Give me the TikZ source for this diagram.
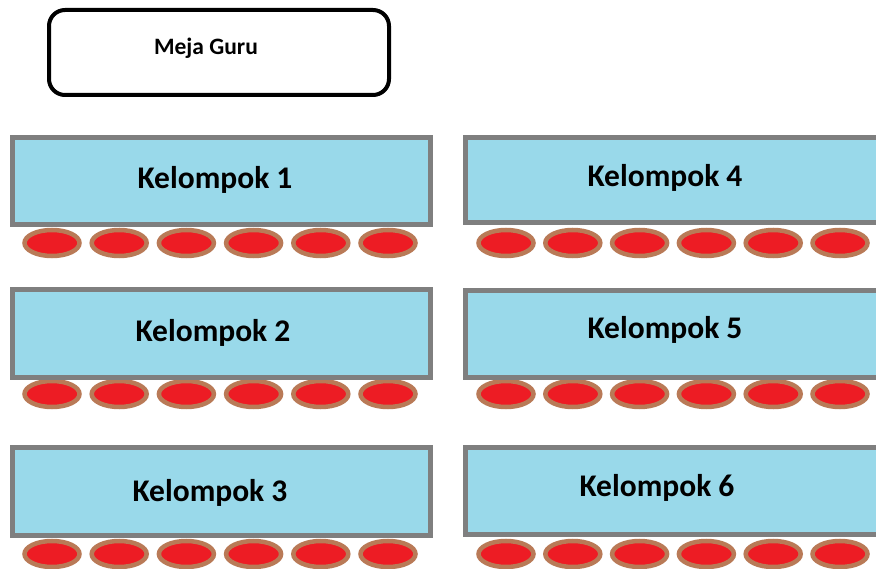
\documentclass[tikz,border=0pt]{standalone}
\usepackage{fontspec}
\setmainfont{Carlito}
\definecolor{tablefill}{HTML}{99D9EA}
\definecolor{tableedge}{HTML}{7F7F7F}
\definecolor{seatred}{HTML}{ED1C24}
\definecolor{seatrim}{HTML}{B97A57}
\tikzset{
  tablebox/.style={draw=tableedge, fill=tablefill, line width=5pt},
  seat/.style={draw=seatrim, fill=seatred, line width=4.5pt},
  grouplabel/.style={font=\fontsize{31.5}{38}\selectfont\bfseries, text=black, inner sep=0pt},
  deskbox/.style={draw=black, line width=4pt, rounded corners=16pt, fill=white},
}
\begin{document}
\begin{tikzpicture}[x=1pt,y=-1pt]
\useasboundingbox (0,0) rectangle (876,569);
\clip (0,0) rectangle (876,569);
\fill[white] (0,0) rectangle (876,569);
% teacher desk
\draw[deskbox] (49,10) rectangle (389,95);
\node[font=\fontsize{23.5}{28}\selectfont\bfseries, inner sep=0pt] (guru) at (206,48) {Meja Guru};
% seats
\foreach \r/\cy in {1/243, 2/394, 3/554} {
  \foreach \k in {0,...,5} {
    \path[seat] ({52+67.2*\k},\cy) ellipse [x radius=27.5pt, y radius=13pt];
    \path[seat] ({506+66.8*\k},\cy) ellipse [x radius=27.5pt, y radius=13pt];
  }
}
% tables
\draw[tablebox] (12.5,137.5) rectangle (430.5,224.5);
\draw[tablebox] (12.5,289.5) rectangle (430.5,377.5);
\draw[tablebox] (12.5,447.5) rectangle (430.5,535.5);
\draw[tablebox] (465.5,137.5) rectangle (900,222.5);
\draw[tablebox] (465.5,290.5) rectangle (900,377.5);
\draw[tablebox] (465.5,447.5) rectangle (900,534.5);
% labels
\node[grouplabel] (k1) at (215,180) {Kelompok 1};
\node[grouplabel] (k2) at (213,333) {Kelompok 2};
\node[grouplabel] (k3) at (210,493) {Kelompok 3};
\node[grouplabel] (k4) at (665,178) {Kelompok 4};
\node[grouplabel] (k5) at (665,330) {Kelompok 5};
\node[grouplabel] (k6) at (657,488) {Kelompok 6};
\end{tikzpicture}
\end{document}
